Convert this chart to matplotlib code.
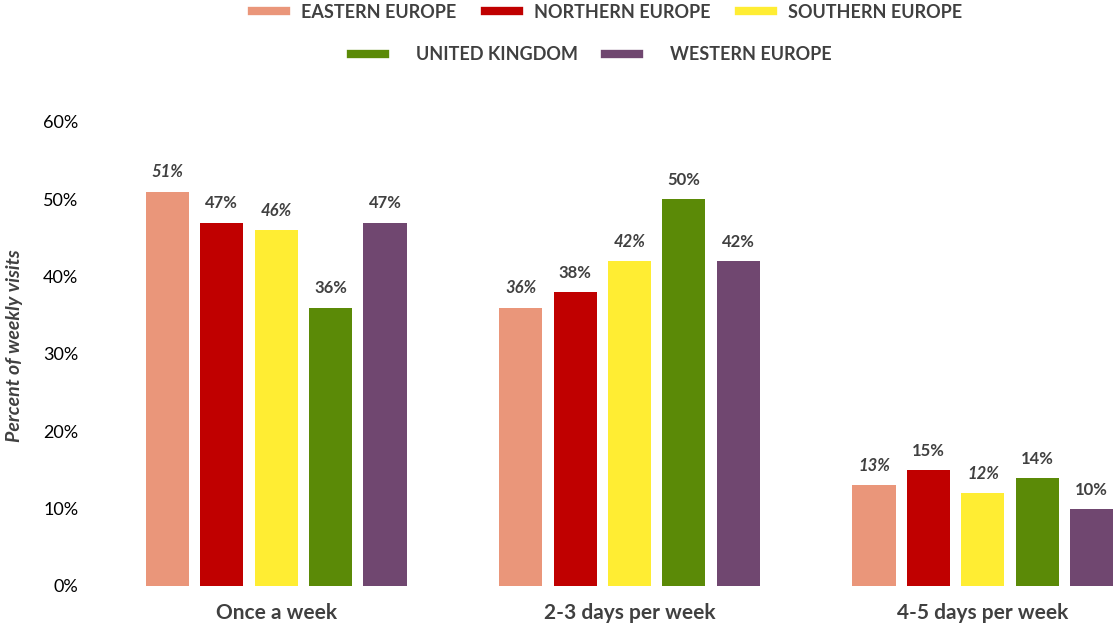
import matplotlib.pyplot as plt
from matplotlib.lines import Line2D
import numpy as np

plt.rcParams['font.family'] = ['Lato', 'DejaVu Sans']

categories = ['Once a week', '2-3 days per week', '4-5 days per week']
regions = ['EASTERN EUROPE', 'NORTHERN EUROPE', 'SOUTHERN EUROPE',
           'UNITED KINGDOM', 'WESTERN EUROPE']
values = {
    'EASTERN EUROPE': [51, 36, 13],
    'NORTHERN EUROPE': [47, 38, 15],
    'SOUTHERN EUROPE': [46, 42, 12],
    'UNITED KINGDOM': [36, 50, 14],
    'WESTERN EUROPE': [47, 42, 10],
}
colors = ['#EA967A', '#C00000', '#FFED33', '#5B8A07', '#704770']
italic_labels = ['EASTERN EUROPE', 'SOUTHERN EUROPE']
yticks = [0, 10, 20, 30, 40, 50, 60]

text_color = '#404040'

fig = plt.figure(figsize=(11.14, 6.32), dpi=100)
ax = fig.add_axes([145 / 1114, 1 - 586 / 632, (1114 - 145) / 1114, (586 - 122) / 632])

x = np.arange(len(categories))
step = 0.154
width = 0.122
for i, (name, col) in enumerate(zip(regions, colors)):
    pos = x + (i - 2) * step
    bars = ax.bar(pos, values[name], width, color=col)
    style = 'italic' if name in italic_labels else 'normal'
    for b, v in zip(bars, values[name]):
        ax.annotate(f'{v}%', (b.get_x() + b.get_width() / 2, v),
                    xytext=(0, 8), textcoords='offset points',
                    ha='center', va='bottom', fontsize=12, fontweight='bold',
                    fontstyle=style, color=text_color)

ax.set_xlim(-0.371, 2.371)
ax.set_ylim(0, 60)
ax.set_yticks(yticks)
ax.set_yticklabels([f'{t}%' for t in yticks], fontsize=13, color='black')
ax.set_xticks(x)
ax.set_xticklabels(categories, fontsize=15, fontweight='bold', color=text_color)
ax.tick_params(axis='y', length=0, pad=48)
ax.tick_params(axis='x', length=0, pad=12)
for s in ax.spines.values():
    s.set_visible(False)

fig.text(15 / 1114, 1 - 346 / 632, 'Percent of weekly visits', rotation=90,
         ha='center', va='center', fontsize=14, fontweight='bold',
         fontstyle='italic', color=text_color)

handles = [Line2D([], [], color=c, linewidth=6) for c in colors]
leg_kw = dict(frameon=False, handlelength=1.9,
              prop={'size': 13, 'weight': 'bold'}, labelcolor=text_color)
fig.legend(handles[:3], regions[:3], ncol=3, loc='center',
           handletextpad=0.8, columnspacing=1.6,
           bbox_to_anchor=(607 / 1114, 1 - 12 / 632), **leg_kw)
fig.legend(handles[3:], regions[3:], ncol=2, loc='center',
           handletextpad=1.7, columnspacing=1.5,
           bbox_to_anchor=(591 / 1114, 1 - 55 / 632), **leg_kw)

fig.savefig('out.png', dpi=100)
